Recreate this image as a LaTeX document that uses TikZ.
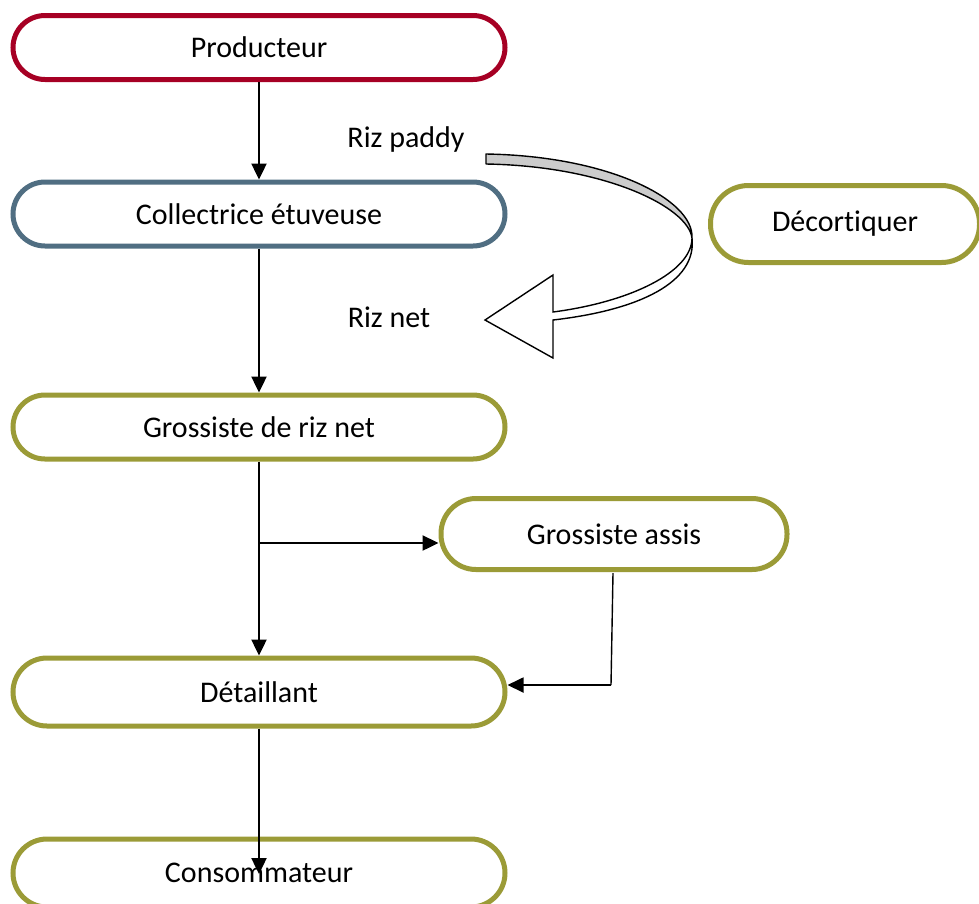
\documentclass[tikz,border=0pt]{standalone}
\usepackage{fontspec}
\setmainfont[Ligatures={NoCommon}]{Carlito}
\usetikzlibrary{arrows.meta,calc}
\definecolor{cred}{RGB}{166,0,36}
\definecolor{cblue}{RGB}{80,110,130}
\definecolor{colive}{RGB}{155,155,55}
\tikzset{
  box/.style={draw, line width=5pt, fill=white, rounded corners=32pt,
    minimum width=492pt, minimum height=64pt, inner sep=0pt,
    font=\fontsize{30}{36}\selectfont},
  conn/.style={line width=2.4pt, -{Triangle[length=16pt,width=15pt]}},
  lbl/.style={font=\fontsize{30}{36}\selectfont, inner sep=0pt}
}
\begin{document}
\begin{tikzpicture}[x=1pt,y=-1pt]
\useasboundingbox (0,0) rectangle (979,903);
\node[box, draw=cred] (prod) at (259,47.5) {Producteur};
\node[box, draw=cblue] (coll) at (259,214) {Collectrice étuveuse};
\node[box, draw=colive] (gros) at (259,427) {Grossiste de riz net};
\node[box, draw=colive, minimum width=346pt, minimum height=71pt, rounded corners=35pt] (assis) at (614,534) {Grossiste assis};
\node[box, draw=colive, minimum width=269pt, minimum height=77pt, rounded corners=38pt] (dec) at (845,224) {Décortiquer};
\node[box, draw=colive, minimum height=68pt, rounded corners=34pt] (det) at (259,692) {Détaillant};
\node[box, draw=colive, minimum height=68pt, rounded corners=34pt] (cons) at (259,873) {Consommateur};
\node[lbl] (paddy) at (406,139) {Riz paddy};
\node[lbl] (net) at (389,317) {Riz net};
% connectors
\draw[conn] (prod.south) -- (coll.north);
\draw[conn] (coll.south) -- (gros.north);
\draw[conn] (gros.south) -- (det.north);
\coordinate (br) at (259,543);
\draw[conn] (br) -- (br -| assis.west);
\coordinate (ad) at (613,573);
\coordinate (ac) at (611,685);
\draw[line width=1.4pt] (ad) -- (ac);
\draw[conn, line width=1.8pt] (ac) -- (ac -| det.east);
\draw[conn] (det.south) -- ($(cons.center)+(0,1)$);
% curved arrow
\filldraw[fill=gray!40, line width=1.4pt, line join=round]
  (486,154) .. controls (610,156) and (694,200) .. (692,238)
  .. controls (688,207) and (605,166) .. (486,164) -- cycle;
\filldraw[fill=white, line width=1.4pt, line join=miter]
  (692,238) .. controls (692,272) and (630,302) .. (553,312)
  -- (553,275) -- (485,320) -- (553,358) -- (553,320)
  .. controls (640,310) and (697,282) .. (692,238);
\end{tikzpicture}
\end{document}
